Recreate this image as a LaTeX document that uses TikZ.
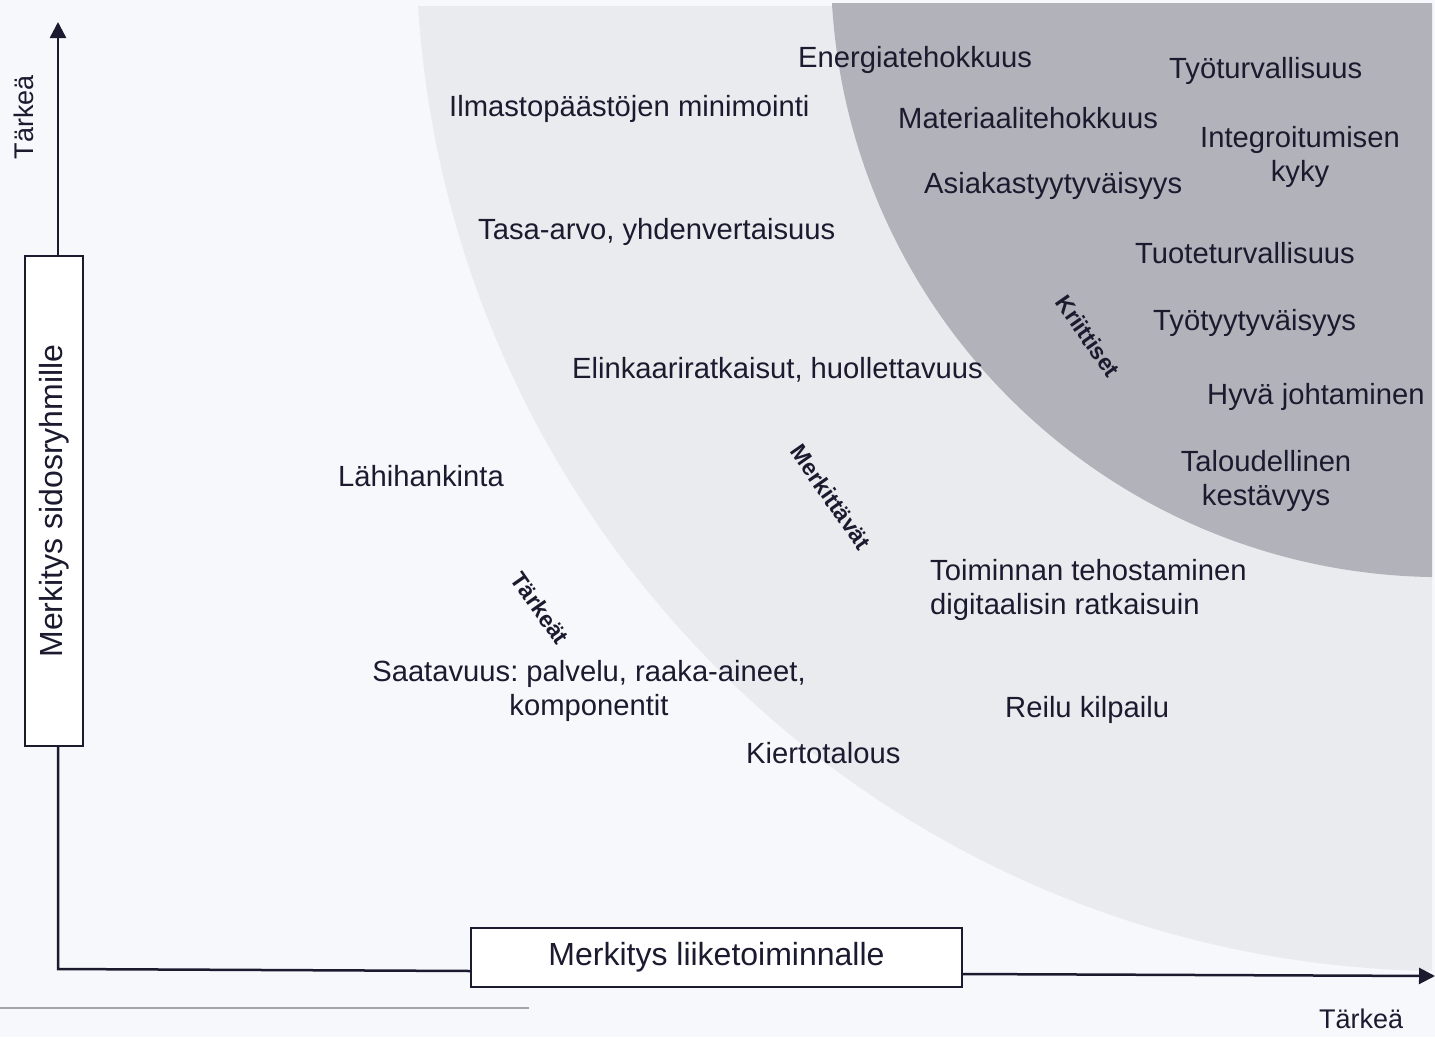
\documentclass[tikz,border=0pt]{standalone}
\usepackage{fontspec}
\setmainfont{Liberation Sans}
\usetikzlibrary{arrows.meta}
\definecolor{bg}{HTML}{F7F8FC}
\definecolor{lightzone}{HTML}{EAEBEF}
\definecolor{darkzone}{HTML}{B2B2BA}
\definecolor{ink}{HTML}{1B1A2F}
\definecolor{rulegrey}{HTML}{A3A3AB}
\frenchspacing
\begin{document}
\begin{tikzpicture}[x=1pt,y=-1pt,
  item/.style={inner sep=0pt, anchor=base west, text=ink, font=\fontsize{29.2}{34}\selectfont},
  itemml/.style={inner sep=0pt, anchor=north, align=center, text=ink, font=\fontsize{29.2}{34}\selectfont},
  zonelab/.style={inner sep=0pt, text=ink, font=\fontsize{23}{27}\selectfont\bfseries, rotate=-55},
  axbox/.style={draw=ink, line width=2pt, fill=white, inner sep=0pt, text=ink, font=\fontsize{32}{38}\selectfont},
  axisline/.style={draw=ink, line width=2.5pt},
  axtip/.style={-{Triangle[length=16pt,width=16pt]}},
  axlab/.style={inner sep=0pt, text=ink, font=\fontsize{27}{32}\selectfont}]
\useasboundingbox (0,0) rectangle (1435,1037);
\fill[bg] (0,0) rectangle (1435,1037);
% zones
\begin{scope}
  \clip (0,6) rectangle (1432,1037);
  \fill[lightzone] (1447,-60) circle[radius=1031pt];
\end{scope}
\begin{scope}
  \clip (0,3) rectangle (1432,1037);
  \fill[darkzone] (1441.4,-33.4) circle[radius=610.5pt];
\end{scope}
% bottom rule
\coordinate (rl) at (0,1008);
\coordinate (rr) at (529,1008);
\draw[rulegrey, line width=2pt] (rl) -- (rr);
% axes
\coordinate (o) at (58,969);
\coordinate (yt) at (58,22);
\coordinate (xt) at (1435,976);
\coordinate (hl) at (471,971);
\coordinate (hr) at (962,974);
\node[axbox, rotate=90, minimum width=490pt, minimum height=58pt] (vbox) at (54,501) {Merkitys sidosryhmille};
\node[axbox, minimum width=491pt, minimum height=59pt] (hbox) at (716.5,957.5) {Merkitys liiketoiminnalle};
\draw[axisline] (o |- vbox.west) -- (o) -- (hl);
\draw[axisline, axtip] (o |- vbox.east) -- (yt);
\draw[axisline, axtip] (hr) -- (xt);
\node[axlab, rotate=90] (ylab) at (24,117) {Tärkeä};
\node[axlab, anchor=base west] (xlab) at (1319,1028) {Tärkeä};
% items
\node[item] (n1) at (798,67) {Energiatehokkuus};
\node[item] (n2) at (449,116) {Ilmastopäästöjen minimointi};
\node[item] (n3) at (1169,78) {Työturvallisuus};
\node[item] (n4) at (898,128) {Materiaalitehokkuus};
\node[itemml] (n5) at (1300,126.2) {Integroitumisen\\kyky};
\node[item] (n6) at (924,193) {Asiakastyytyväisyys};
\node[item] (n7) at (478,239) {Tasa-arvo, yhdenvertaisuus};
\node[item] (n8) at (1135,263) {Tuoteturvallisuus};
\node[item] (n9) at (1153,330) {Työtyytyväisyys};
\node[item] (n10) at (572,378) {Elinkaariratkaisut, huollettavuus};
\node[item] (n11) at (1207,404) {Hyvä johtaminen};
\node[itemml] (n12) at (1266,450.2) {Taloudellinen\\kestävyys};
\node[item] (n13) at (338,486) {Lähihankinta};
\node[itemml, anchor=north west, align=left] (n14) at (930,559.2) {Toiminnan tehostaminen\\digitaalisin ratkaisuin};
\node[itemml] (n15) at (589,660.2) {Saatavuus: palvelu, raaka-aineet,\\komponentit};
\node[item] (n16) at (1005,717) {Reilu kilpailu};
\node[item] (n17) at (746,763) {Kiertotalous};
% zone labels
\node[zonelab] (zk) at (1088,336) {Kriittiset};
\node[zonelab] (zm) at (831,497) {Merkittävät};
\node[zonelab] (zt) at (540,608) {Tärkeät};
\end{tikzpicture}
\end{document}
